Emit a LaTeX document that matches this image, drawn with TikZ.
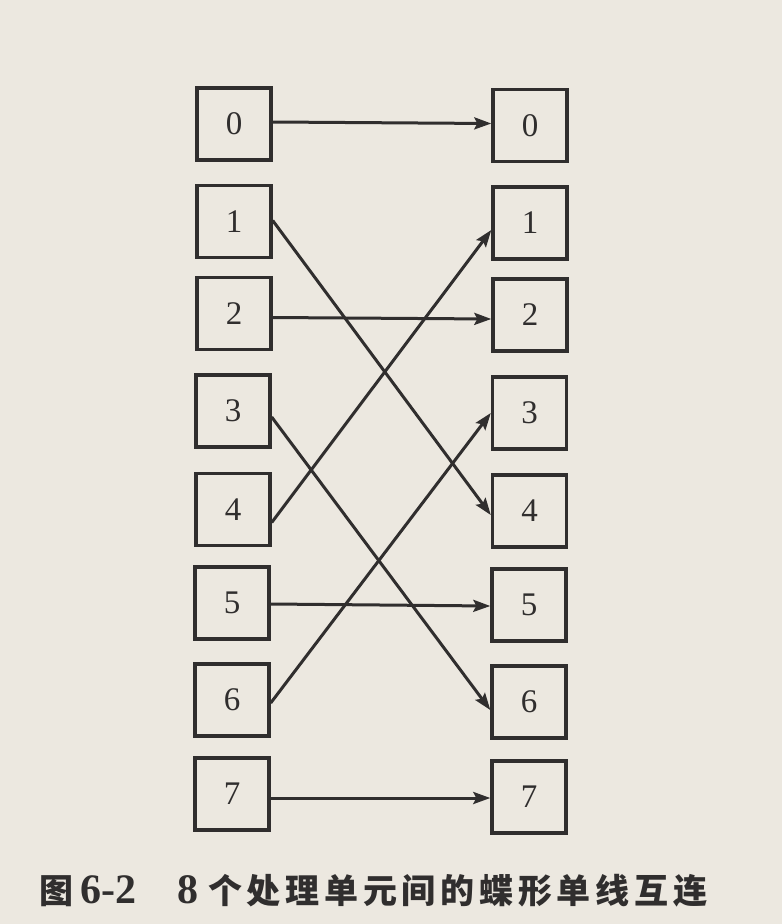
\documentclass[tikz,border=0pt]{standalone}
\usepackage{fontspec}
\setmainfont{Liberation Serif}
\newfontfamily\cjk{Noto Sans CJK SC}
\newfontfamily\capnum{Liberation Serif}
\usetikzlibrary{arrows.meta}
\definecolor{paper}{RGB}{236,232,224}
\definecolor{ink}{RGB}{48,46,46}
\tikzset{
  pe/.style={draw=ink, line width=3.4pt, fill=paper, minimum width=74pt, minimum height=72pt, inner sep=0pt, text=ink, font=\fontsize{33}{33}\selectfont},
  link/.style={draw=ink, line width=3pt, -{Stealth[length=17pt,width=12pt,inset=3pt]}}
}
\begin{document}
\begin{tikzpicture}[x=1pt,y=-1pt]
\fill[paper] (0,0) rectangle (782,924);
\useasboundingbox (0,0) rectangle (782,924);
% left column
\node[pe] (L0) at (234,124) {0};
\node[pe] (L1) at (234,221.5) {1};
\node[pe] (L2) at (234,313.5) {2};
\node[pe] (L3) at (233,411) {3};
\node[pe] (L4) at (233,509.5) {4};
\node[pe] (L5) at (232,603) {5};
\node[pe] (L6) at (232,700) {6};
\node[pe] (L7) at (232,794) {7};
% right column
\node[pe] (R0) at (530,125.5) {0};
\node[pe] (R1) at (530,223) {1};
\node[pe] (R2) at (530,315) {2};
\node[pe] (R3) at (529.5,413) {3};
\node[pe] (R4) at (529.5,511) {4};
\node[pe] (R5) at (529,605) {5};
\node[pe] (R6) at (529,702) {6};
\node[pe] (R7) at (529,797) {7};
% connections
\draw[link] ([yshift=2pt]L0.east) -- ([yshift=2pt]R0.west);
\draw[link] ([yshift=-4pt]L2.east) -- ([yshift=-4pt]R2.west);
\draw[link] ([yshift=-1pt]L5.east) -- ([yshift=-1pt]R5.west);
\draw[link] ([yshift=-4pt]L7.east) -- ([yshift=-1pt]R7.west);
\draw[link] ([yshift=1pt]L1.east) -- ([yshift=-4pt]R4.west);
\draw[link] ([yshift=-13pt]L4.east) -- ([yshift=-7pt]R1.west);
\draw[link] ([yshift=-6pt]L3.east) -- ([yshift=-8pt]R6.west);
\draw[link] ([yshift=-3pt]L6.east) -- ([yshift=0pt]R3.west);
% caption
\node[anchor=base west, text=ink, inner sep=0pt] (cap) at (39,903)
  {\bfseries{\fontsize{34}{34}\selectfont\cjk 图}\hspace{7pt}{\fontsize{42}{42}\selectfont\capnum 6-2}\hspace{41pt}{\fontsize{42}{42}\selectfont\capnum 8}\hspace{10pt}{\fontsize{34}{34}\selectfont\cjk\addfontfeature{LetterSpace=14}个处理单元间的蝶形单线互连}};
\end{tikzpicture}
\end{document}
